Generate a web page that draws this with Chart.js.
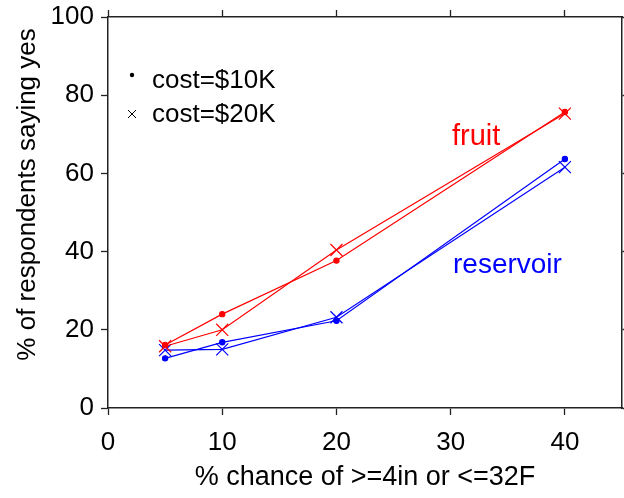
<!DOCTYPE html>
<html>
<head>
<meta charset="utf-8">
<script src="https://cdn.jsdelivr.net/npm/chart.js@4/dist/chart.umd.min.js"></script>
<style>
  html, body { margin: 0; padding: 0; background: #fff; }
  #wrap { width: 624px; height: 498px; }
</style>
</head>
<body>
<div id="wrap"><canvas id="chart" width="624" height="498"></canvas></div>
<script>
// data
const chanceX = [5, 10, 20, 40];
const fruit10K = [16.1, 24, 37.7, 75.7];
const fruit20K = [15.8, 20, 40.4, 75.3];
const reservoir10K = [12.7, 16.8, 22.3, 63.7];
const reservoir20K = [14.8, 15, 23.2, 61.6];
const legendLabels = ["cost=$10K", "cost=$20K"];
const seriesNames = ["fruit", "reservoir"];

const FONT = "'Liberation Sans', Arial, Helvetica, sans-serif";
const RED = "#ff0000";
const BLUE = "#0000ff";

function pts(ys) {
    return chanceX.map((x, i) => ({ x: x, y: ys[i] }));
}

function series(ys, color, style) {
    return {
        data: pts(ys),
        borderColor: color,
        backgroundColor: color,
        borderWidth: 1.2,
        pointStyle: style,
        pointRadius: style === "circle" ? 2.6 : 8.5,
        pointBorderWidth: 1.2,
        pointBorderColor: color,
        pointBackgroundColor: color,
        tension: 0
    };
}

// frame axes: ticks outward, no grid inside
function frameAxis(pos, min, max, step, showLabels, size) {
    return {
        type: "linear",
        position: pos,
        min: min,
        max: max,
        grid: {
            drawOnChartArea: false,
            drawTicks: true,
            tickLength: 7,
            tickWidth: 1.3,
            tickColor: "#222"
        },
        border: { display: true, color: "#222", width: 1.5 },
        ticks: {
            display: showLabels,
            stepSize: step,
            includeBounds: false,
            color: "#000",
            font: { family: FONT, size: 26 },
            padding: 7,
            maxRotation: 0
        },
        afterFit: function (scale) {
            if (scale.isHorizontal()) {
                scale.height = size;
                scale.paddingLeft = 0;
                scale.paddingRight = 0;
            } else {
                scale.width = size;
                scale.paddingTop = 0;
                scale.paddingBottom = 0;
            }
        }
    };
}

const xAxis = frameAxis("bottom", 0, 45, 10, true, 90);
xAxis.ticks.padding = 12;
xAxis.title = {
    display: true,
    text: "% chance of >=4in or <=32F",
    color: "#000",
    font: { family: FONT, size: 27 },
    padding: { top: 0, bottom: 4 }
};
const yAxis = frameAxis("left", 0, 100, 20, true, 108);
yAxis.title = {
    display: true,
    text: "     % of respondents saying yes",
    color: "#000",
    font: { family: FONT, size: 26 },
    padding: { top: 12, bottom: 0 }
};
const x2Axis = frameAxis("top", 0, 45, 10, false, 17);
const y2Axis = frameAxis("right", 0, 100, 20, false, 2);

// legend box and series labels drawn in the plot area
const notes = {
    id: "notes",
    afterDraw(chart) {
        const ctx = chart.ctx;
        ctx.save();
        ctx.fillStyle = "#000";
        ctx.strokeStyle = "#000";
        ctx.lineWidth = 1;
        ctx.beginPath();
        ctx.arc(132, 75, 2.2, 0, Math.PI * 2);
        ctx.fill();
        ctx.beginPath();
        ctx.moveTo(128, 110); ctx.lineTo(136, 118);
        ctx.moveTo(136, 110); ctx.lineTo(128, 118);
        ctx.stroke();
        ctx.font = "26px " + FONT;
        ctx.textBaseline = "alphabetic";
        ctx.fillText(legendLabels[0], 152, 88);
        ctx.fillText(legendLabels[1], 152, 122);
        ctx.font = "29px " + FONT;
        ctx.fillStyle = RED;
        ctx.fillText(seriesNames[0], 452, 145);
        ctx.font = "28px " + FONT;
        ctx.fillStyle = BLUE;
        ctx.fillText(seriesNames[1], 453, 273);
        ctx.restore();
    }
};

new Chart(document.getElementById("chart"), {
    type: "line",
    data: {
        datasets: [
            series(fruit10K, RED, "circle"),
            series(fruit20K, RED, "crossRot"),
            series(reservoir10K, BLUE, "circle"),
            series(reservoir20K, BLUE, "crossRot")
        ]
    },
    options: {
        responsive: false,
        animation: false,
        layout: { padding: 0, autoPadding: false },
        plugins: {
            legend: { display: false },
            tooltip: { enabled: false }
        },
        scales: { x: xAxis, y: yAxis, x2: x2Axis, y2: y2Axis }
    },
    plugins: [notes]
});
</script>
</body>
</html>
